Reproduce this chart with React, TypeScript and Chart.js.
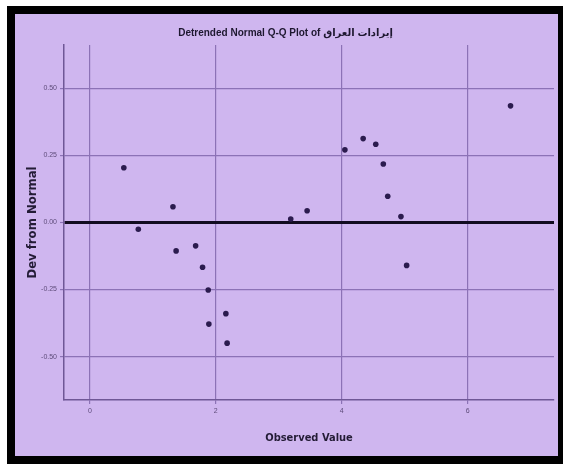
import React, { useEffect, useRef } from "react";
import { Chart, registerables } from "chart.js";

Chart.register(...registerables);

const observedValues = [
  0.54, 0.77, 1.32, 1.37, 1.68, 1.79, 1.88, 1.89, 2.16, 2.18,
  3.19, 3.45, 4.05, 4.34, 4.54, 4.66, 4.73, 4.94, 5.03, 6.68,
];
const devFromNormal = [
  0.204, -0.025, 0.059, -0.106, -0.087, -0.167, -0.252, -0.379, -0.34, -0.45,
  0.013, 0.044, 0.271, 0.313, 0.292, 0.218, 0.098, 0.022, -0.16, 0.435,
];
const xTickValues = [0, 2, 4, 6];
const yTickValues = [-0.5, -0.25, 0, 0.25, 0.5];

const chartTitle = "Detrended Normal Q-Q Plot of إيرادات العراق";
const xTitle = "Observed Value";
const yTitle = "Dev from Normal";

const FONT = '"Liberation Sans", Arial, "DejaVu Sans", sans-serif';
const COND = '"DejaVu Sans Condensed", "Liberation Sans", Arial, sans-serif';
const BG = "#CFB6EF";
const GRID = "#8C72B6";

export default function App() {
  const ref = useRef<HTMLCanvasElement | null>(null);

  useEffect(() => {
    document.body.style.overflow = "hidden";
    const canvas = ref.current;
    if (!canvas) return;
    const points = observedValues.map((x, i) => ({ x, y: devFromNormal[i] }));
    const chart = new Chart(canvas, {
      type: "scatter",
      data: {
        datasets: [
          {
            data: points,
            backgroundColor: "#2B1B4E",
            borderColor: "#2B1B4E",
            borderWidth: 0,
            pointRadius: 2.8,
          },
        ],
      },
      options: {
        animation: false,
        responsive: false,
        devicePixelRatio: 1,
        layout: { padding: { left: 0, right: 2, top: 0, bottom: 0 } },
        plugins: {
          legend: { display: false },
          tooltip: { enabled: false },
          title: {
            display: true,
            text: chartTitle,
            color: "#1E1830",
            font: { family: FONT, size: 10, weight: "bold" },
            padding: { top: 13, bottom: 6 },
          },
        },
        scales: {
          x: {
            type: "linear",
            min: -0.41,
            max: 7.37,
            afterBuildTicks: (s: any) => {
              s.ticks = xTickValues.map((v) => ({ value: v }));
            },
            afterFit: (s: any) => {
              s.height = 56;
            },
            ticks: {
              color: "#5E4C7A",
              font: { family: FONT, size: 7 },
              padding: 3,
              maxRotation: 0,
              callback: (v: any) => String(v),
            },
            grid: {
              color: GRID,
              lineWidth: 1.2,
              tickLength: 4,
              tickColor: GRID,
            },
            border: { display: true, color: "#6F5796", width: 1.5 },
            title: {
              display: true,
              text: xTitle,
              color: "#241C36",
              font: { family: COND, size: 11, weight: "bold" },
              padding: { top: 4, bottom: 11 },
            },
          },
          y: {
            type: "linear",
            min: -0.662,
            max: 0.662,
            afterBuildTicks: (s: any) => {
              s.ticks = yTickValues.map((v) => ({ value: v }));
            },
            afterFit: (s: any) => {
              s.width = 49;
            },
            ticks: {
              color: "#5E4C7A",
              font: { family: FONT, size: 7 },
              padding: 3,
              callback: (v: any) => Number(v).toFixed(2),
            },
            grid: {
              color: (ctx: any) => (ctx.tick && ctx.tick.value === 0 ? "#120C20" : GRID),
              lineWidth: (ctx: any) => (ctx.tick && ctx.tick.value === 0 ? 3 : 1.2),
              tickLength: 4,
              tickColor: GRID,
              tickWidth: 1.2,
            },
            border: { display: true, color: "#6F5796", width: 1.5 },
            title: {
              display: true,
              text: yTitle,
              color: "#241C36",
              font: { family: COND, size: 13, weight: "bold" },
              padding: { top: 10, bottom: 4 },
            },
          },
        },
      },
    });
    return () => chart.destroy();
  }, []);

  return (
    <div
      style={{
        position: "fixed",
        left: 7,
        top: 6,
        width: 556,
        height: 458,
        boxSizing: "border-box",
        borderTop: "8px solid #000",
        borderLeft: "8px solid #000",
        borderBottom: "8px solid #000",
        borderRight: "5px solid #000",
        background: BG,
      }}
    >
      <canvas ref={ref} width={543} height={442} style={{ display: "block", width: 543, height: 442 }} />
    </div>
  );
}
